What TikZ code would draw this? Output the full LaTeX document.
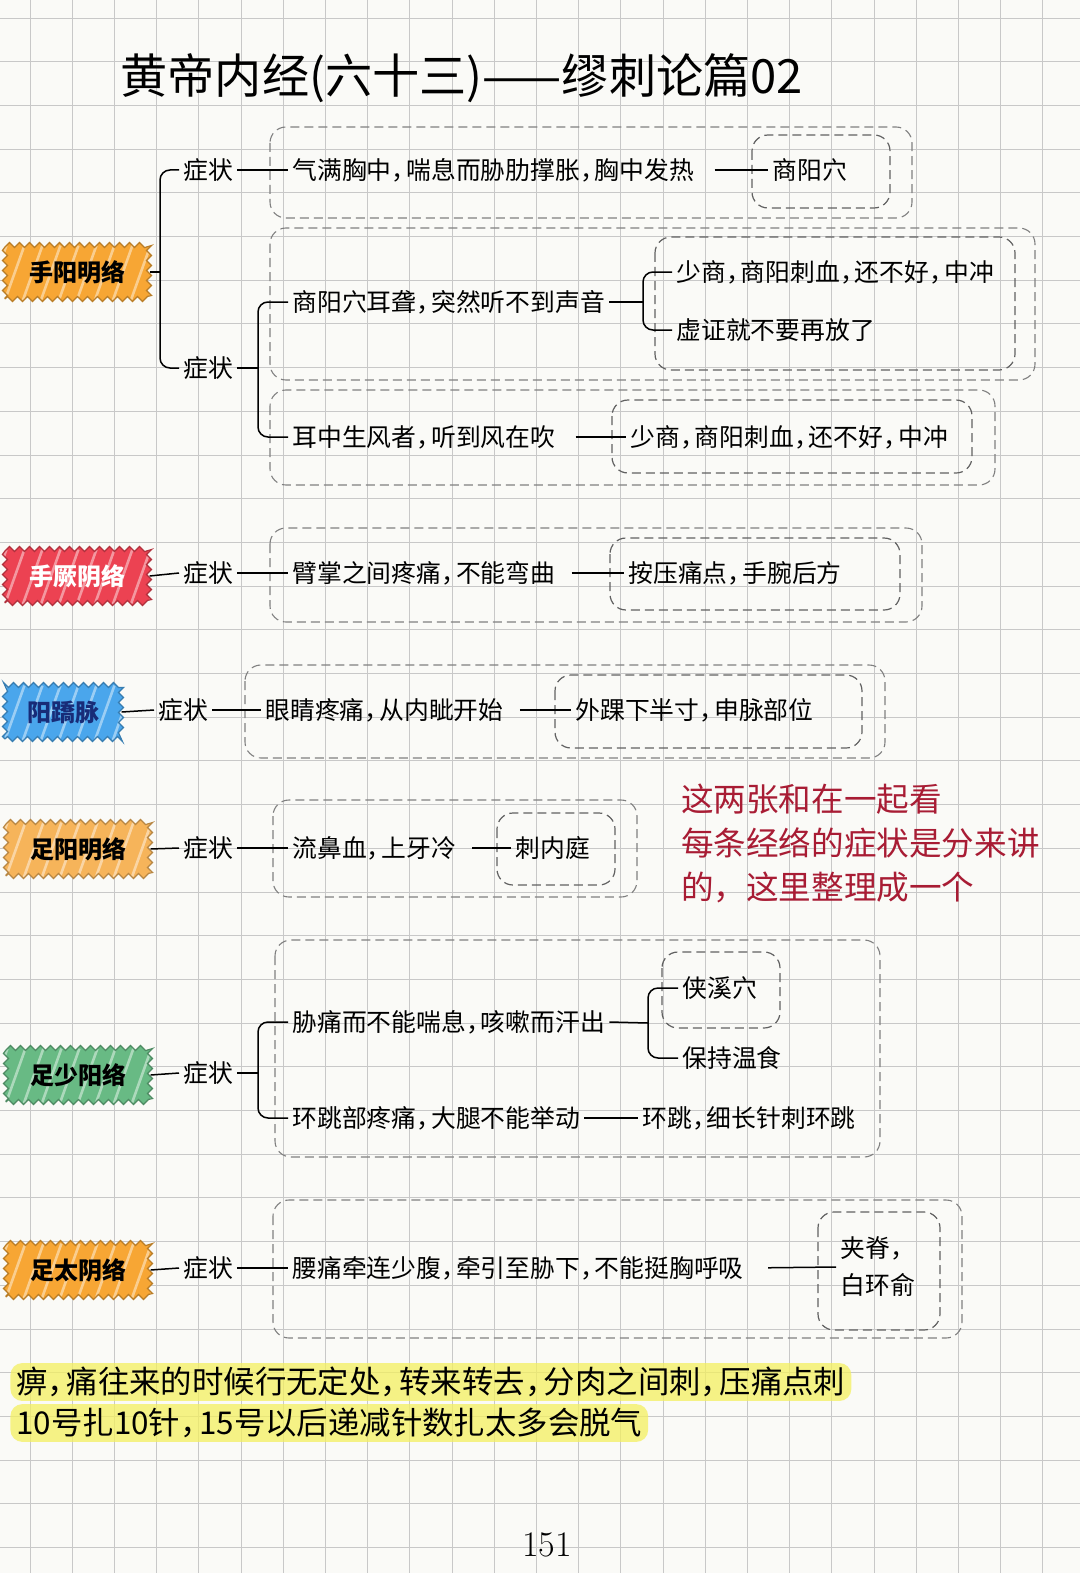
\documentclass[tikz,border=0pt]{standalone}
\usepackage{fontspec}
\newfontfamily\cjk{Noto Sans CJK SC}
\usetikzlibrary{positioning,decorations.pathmorphing}
\definecolor{paper}{RGB}{250,250,247}
\definecolor{gridgray}{RGB}{200,200,200}
\definecolor{tagorange}{RGB}{247,166,52}
\definecolor{taglight}{RGB}{246,180,90}
\definecolor{tagred}{RGB}{236,66,82}
\definecolor{tagblue}{RGB}{74,166,236}
\definecolor{taggreen}{RGB}{104,186,132}
\definecolor{navy}{RGB}{24,44,120}
\definecolor{notered}{RGB}{168,28,52}
\definecolor{hlyellow}{RGB}{244,240,96}
\newcommand{\dou}{\makebox[0.6em][l]{，}}

\begin{document}
\begin{tikzpicture}[x=0.5pt, y=-0.5pt,
  lnk/.style={draw, line width=.75pt},
  brc/.style={draw, line width=.75pt, rounded corners=5pt},
  txt/.style={anchor=west, inner sep=2pt, font=\cjk\fontsize{12.4}{14}\selectfont},
  obox/.style={draw=black!50, line width=.55pt, dash pattern=on 4.5pt off 2.5pt, rounded corners=8pt},
  ibox/.style={draw=black!62, line width=.6pt, dash pattern=on 4.5pt off 2.5pt, rounded corners=8pt},
  tag/.style={minimum width=72pt, minimum height=27pt, fill=#1, draw=#1!75!black, line width=.6pt,
              decorate, decoration={zigzag, segment length=5pt, amplitude=1.3pt},
              font=\cjk\bfseries\fontsize{12}{14}\selectfont,
              path picture={\foreach \k in {0,...,9}{
                \draw[white, opacity=.45, line width=1.3pt]
                  ([xshift=\k*9pt-8pt]path picture bounding box.south west) -- ++(10pt,28pt);}}},
  bottomtxt/.style={anchor=west, inner xsep=3pt, inner ysep=2pt, fill=hlyellow, fill opacity=.75,
              text opacity=1, rounded corners=6pt, font=\cjk\fontsize{15.7}{18}\selectfont}]
  % paper and grid
  \fill[paper] (0,0) rectangle (1080,1573);
  \useasboundingbox (0,0) rectangle (1080,1573);
  \begin{scope}
    \clip (0,0) rectangle (1080,1573);
    \foreach \gx in {0,...,25} \draw[gridgray, line width=.45pt] ({30+42.2*\gx},0) -- ++(0,1573);
    \foreach \gy in {0,...,35} \draw[gridgray, line width=.45pt] (0,{18+43.7*\gy}) -- ++(1080,0);
  \end{scope}

  \node[anchor=west, inner sep=0pt, font=\cjk\fontsize{23.6}{27}\selectfont] (title) at (120,78)
       {黄帝内经(六十三)——缪刺论篇02};

  % 手阳明络
  \draw[obox] (270,127) rectangle (912,218);
  \draw[ibox] (752,135) rectangle (890,208);
  \draw[obox] (270,228) rectangle (1035,380);
  \draw[ibox] (655,237) rectangle (1015,370);
  \draw[obox] (270,390) rectangle (995,485);
  \draw[ibox] (612,400) rectangle (972,473);
  \node[tag=tagorange] (shouYM) at (77,272) {手阳明络};
  \node[txt] (zz1) at (179,170) {症状};
  \node[txt] (zz2) at (179,368) {症状};
  \node[txt] (sym1) at (288,170) {气满胸中\dou 喘息而胁肋撑胀\dou 胸中发热};
  \node[txt] (pt1) at (768,170) {商阳穴};
  \node[txt] (sym2) at (288,302) {商阳穴耳聋\dou 突然听不到声音};
  \node[txt] (pt2a) at (672,272) {少商\dou 商阳刺血\dou 还不好\dou 中冲};
  \node[txt] (pt2b) at (672,330) {虚证就不要再放了};
  \node[txt] (sym3) at (288,437) {耳中生风者\dou 听到风在吹};
  \node[txt] (pt3) at (626,437) {少商\dou 商阳刺血\dou 还不好\dou 中冲};
  \coordinate (b1) at (160,272);
  \coordinate (b2) at (258,368);
  \coordinate (b3) at (643,302);
  \draw[lnk] (shouYM.east) -- (b1);
  \draw[brc] (zz1.west) -| (b1) |- (zz2.west);
  \draw[lnk] (zz1.east) -- (sym1.west);
  \draw[lnk, shorten <=8pt] (sym1.east) -- (pt1.west);
  \draw[lnk] (zz2.east) -- (b2);
  \draw[brc] (sym2.west) -| (b2) |- (sym3.west);
  \draw[lnk] (sym2.east) -- (b3);
  \draw[brc] (pt2a.west) -| (b3) |- (pt2b.west);
  \draw[lnk, shorten <=8pt] (sym3.east) -- (pt3.west);

  % 手厥阴络
  \draw[obox] (270,528) rectangle (922,622);
  \draw[ibox] (610,538) rectangle (900,610);
  \node[tag=tagred, text=white] (shouJY) at (77,576) {手厥阴络};
  \node[txt] (zz3) at (179,573) {症状};
  \node[txt] (sym4) at (288,573) {臂掌之间疼痛\dou 不能弯曲};
  \node[txt] (pt4) at (624,573) {按压痛点\dou 手腕后方};
  \draw[lnk] (shouJY.east) -- (zz3.west);
  \draw[lnk] (zz3.east) -- (sym4.west);
  \draw[lnk, shorten <=6pt] (sym4.east) -- (pt4.west);

  % 阳蹻脉
  \draw[obox] (245,665) rectangle (885,758);
  \draw[ibox] (555,675) rectangle (862,748);
  \node[tag=tagblue, text=navy, minimum width=58pt] (yangQ) at (63,712) {阳蹻脉};
  \node[txt] (zz4) at (154,710) {症状};
  \node[txt] (sym5) at (261,710) {眼睛疼痛\dou 从内眦开始};
  \node[txt] (pt5) at (571,710) {外踝下半寸\dou 申脉部位};
  \draw[lnk] (yangQ.east) -- (zz4.west);
  \draw[lnk] (zz4.east) -- (sym5.west);
  \draw[lnk, shorten <=6pt] (sym5.east) -- (pt5.west);

  % 足阳明络
  \draw[obox] (273,800) rectangle (637,897);
  \draw[ibox] (497,813) rectangle (615,885);
  \node[tag=taglight] (zuYM) at (78,849) {足阳明络};
  \node[txt] (zz5) at (179,848) {症状};
  \node[txt] (sym6) at (288,848) {流鼻血\dou 上牙冷};
  \node[txt] (pt6) at (511,848) {刺内庭};
  \draw[lnk] (zuYM.east) -- (zz5.west);
  \draw[lnk] (zz5.east) -- (sym6.west);
  \draw[lnk, shorten <=6pt] (sym6.east) -- (pt6.west);

  \node[anchor=west, align=left, text=notered, font=\cjk\fontsize{16.3}{22}\selectfont] (note) at (674,843)
       {这两张和在一起看\\每条经络的症状是分来讲\\的，这里整理成一个};

  % 足少阳络
  \draw[obox] (275,940) rectangle (880,1157);
  \draw[ibox] (662,952) rectangle (780,1028);
  \node[tag=taggreen] (zuSY) at (78,1075) {足少阳络};
  \node[txt] (zz6) at (179,1073) {症状};
  \node[txt] (sym7) at (288,1022) {胁痛而不能喘息\dou 咳嗽而汗出};
  \node[txt] (sym8) at (288,1118) {环跳部疼痛\dou 大腿不能举动};
  \node[txt] (pt7a) at (678,988) {侠溪穴};
  \node[txt] (pt7b) at (678,1058) {保持温食};
  \node[txt] (pt8) at (638,1118) {环跳\dou 细长针刺环跳};
  \coordinate (b5) at (258,1073);
  \coordinate (b6) at (648,1023);
  \draw[lnk] (zuSY.east) -- (zz6.west);
  \draw[lnk] (zz6.east) -- (b5);
  \draw[brc] (sym7.west) -| (b5) |- (sym8.west);
  \draw[lnk] (sym7.east) -- (b6);
  \draw[brc] (pt7a.west) -| (b6) |- (pt7b.west);
  \draw[lnk] (sym8.east) -- (pt8.west);

  % 足太阴络
  \draw[obox] (273,1200) rectangle (962,1338);
  \draw[ibox] (818,1212) rectangle (940,1330);
  \node[tag=tagorange] (zuTY) at (78,1270) {足太阴络};
  \node[txt] (zz7) at (179,1268) {症状};
  \node[txt] (sym9) at (288,1268) {腰痛牵连少腹\dou 牵引至胁下\dou 不能挺胸呼吸};
  \node[txt, align=left, font=\cjk\fontsize{12.4}{18.5}\selectfont] (pt9) at (836,1267) {夹脊\dou\\白环俞};
  \draw[lnk] (zuTY.east) -- (zz7.west);
  \draw[lnk] (zz7.east) -- (sym9.west);
  \draw[lnk, shorten <=10pt] (sym9.east) -- (pt9.west);

  % notes
  \node[bottomtxt] (tip1) at (10,1382) {痹\dou 痛往来的时候行无定处\dou 转来转去\dou 分肉之间刺\dou 压痛点刺};
  \node[bottomtxt] (tip2) at (10,1423) {10号扎10针\dou 15号以后递减针数扎太多会脱气};
  \node[font=\fontsize{18}{20}\selectfont] (page) at (547,1545) {151};
\end{tikzpicture}
\end{document}
